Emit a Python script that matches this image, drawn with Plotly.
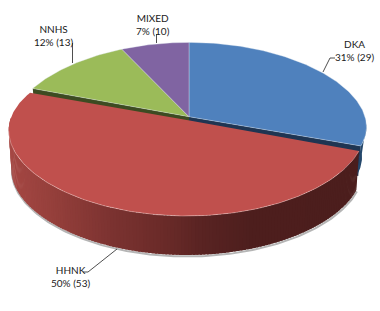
import math
import plotly.graph_objects as go

categories = ["DKA", "HHNK", "NNHS", "MIXED"]
percents = [31, 50, 12, 7]
counts = [29, 53, 13, 10]
top_colors = ["#4F81BD", "#C0504D", "#9BBB59", "#8064A2"]
cut_colors = ["#1F3552", "#3A1A19", "#3D4B22", "#3A2C4A"]
# per slice projection: centre x, centre y, half width, x perspective, y scale, y perspective
upper = (189, 116.7, 176, 0.129, 78, 0.05)
lower = (186.7, 120, 176.5, 0.129, 78.7, 0.18)
slice_proj = [upper, lower, upper, upper]
label_pos = [(354, 43), (70, 269), (53, 28), (153, 17)]
leaders = [[(323, 72), (330, 58), (335, 58)],
           [(117, 249), (88, 272), (83, 272)],
           [(72.5, 63), (72.5, 43)],
           [(156.5, 43), (156.5, 34)]]

DEPTH, SHRINK = 39, 0.985
gradient = [(8, (166, 72, 68)), (60, (146, 62, 58)), (110, (124, 51, 49)),
            (170, (104, 42, 40)), (200, (90, 36, 35)), (250, (78, 31, 30)), (360, (76, 30, 29))]


def proj(theta_deg, pr):
    cx, cy, a, kx, b, ky = pr
    t = math.radians(theta_deg)
    X, Y = math.sin(t), math.cos(t)
    return cx + a * X / (1 + kx * Y), cy - b * Y / (1 + ky * Y)


def below(pt, pr, depth=DEPTH, shrink=SHRINK):
    return pr[0] + (pt[0] - pr[0]) * shrink, pt[1] + depth


def arc(a0, a1, pr, step=1.0):
    n = max(2, int(abs(a1 - a0) / step) + 1)
    return [proj(a0 + (a1 - a0) * i / (n - 1), pr) for i in range(n)]


def grad(x):
    for (x0, c0), (x1, c1) in zip(gradient, gradient[1:]):
        if x <= x1:
            f = max(0, (x - x0) / (x1 - x0))
            return "rgb(%d,%d,%d)" % tuple(c0[i] + (c1[i] - c0[i]) * f for i in range(3))
    return "rgb(76,30,29)"


fig = go.Figure()


def poly(pts, color, line=None, width=0):
    xs = [p[0] for p in pts] + [pts[0][0]]
    ys = [p[1] for p in pts] + [pts[0][1]]
    fig.add_trace(go.Scatter(x=xs, y=ys, mode="lines", fill="toself", fillcolor=color,
                             line=dict(color=line or color, width=width if line else 0),
                             hoverinfo="skip", showlegend=False))


def path(pts, color, width):
    fig.add_trace(go.Scatter(x=[p[0] for p in pts], y=[p[1] for p in pts], mode="lines",
                             line=dict(color=color, width=width), hoverinfo="skip", showlegend=False))


# slice angles from the percentages
starts, ends, c = [], [], 0
for p in percents:
    starts.append(c * 3.6)
    c += p
    ends.append(c * 3.6)

# cut faces and the small blue outer wall, behind the red slice
for i in [0, 2]:
    pr = slice_proj[i]
    edge = ends[i] if i == 0 else starts[i]
    apex = (pr[0], pr[1])
    corner = proj(edge, pr)
    poly([apex, corner, below(corner, pr, 30), below(apex, pr, 30)], cut_colors[i])
blue_wall = arc(95, ends[0], slice_proj[0])
poly(blue_wall + [below(q, slice_proj[0], 30, 0.975) for q in reversed(blue_wall)], "#24476B")

# red slice: shadow, wall strips, top
pr = slice_proj[1]
front = arc(starts[1], 270.0, pr)
path([(q[0] + 0.5, q[1] + 1.5) for q in (below(r, pr) for r in front)], "rgba(120,120,120,0.55)", 2)
lo, hi = starts[1], 272.0
for i in range(int(hi - lo)):
    a0 = lo + i
    a1 = min(a0 + 1.6, hi)
    p0, p1 = proj(a0, pr), proj(a1, pr)
    poly([p0, p1, below(p1, pr), below(p0, pr)], grad((p0[0] + p1[0]) / 2))
poly([(pr[0], pr[1])] + arc(starts[1], ends[1], pr), top_colors[1])
path(arc(starts[1], 262.0, pr), "rgba(255,225,220,0.6)", 0.6)

# remaining top faces
for i in [0, 2, 3]:
    pr = slice_proj[i]
    poly([(pr[0], pr[1])] + arc(starts[i], ends[i], pr), top_colors[i], "rgba(225,232,240,0.6)", 0.6)

# leader lines
for pts in leaders:
    path(pts, "#222222", 0.8)

annotations = []
for name, p, n_, (x, y) in zip(categories, percents, counts, label_pos):
    annotations.append(dict(x=x, y=y, xref="x", yref="y", showarrow=False, yanchor="top", yshift=7,
                            align="center", text=f"{name}<br>{p}% ({n_})",
                            font=dict(family="Lato", size=10, color="#1a1a1a")))

fig.update_layout(width=380, height=311, margin=dict(l=0, r=0, t=0, b=0),
                  paper_bgcolor="white", plot_bgcolor="white", showlegend=False,
                  annotations=annotations,
                  xaxis=dict(range=[0, 380], visible=False, fixedrange=True),
                  yaxis=dict(range=[311, 0], visible=False, fixedrange=True))
fig.write_html("out.html", config={"displayModeBar": False},
               post_script="document.body.style.margin='0';document.body.style.overflow='hidden';")
